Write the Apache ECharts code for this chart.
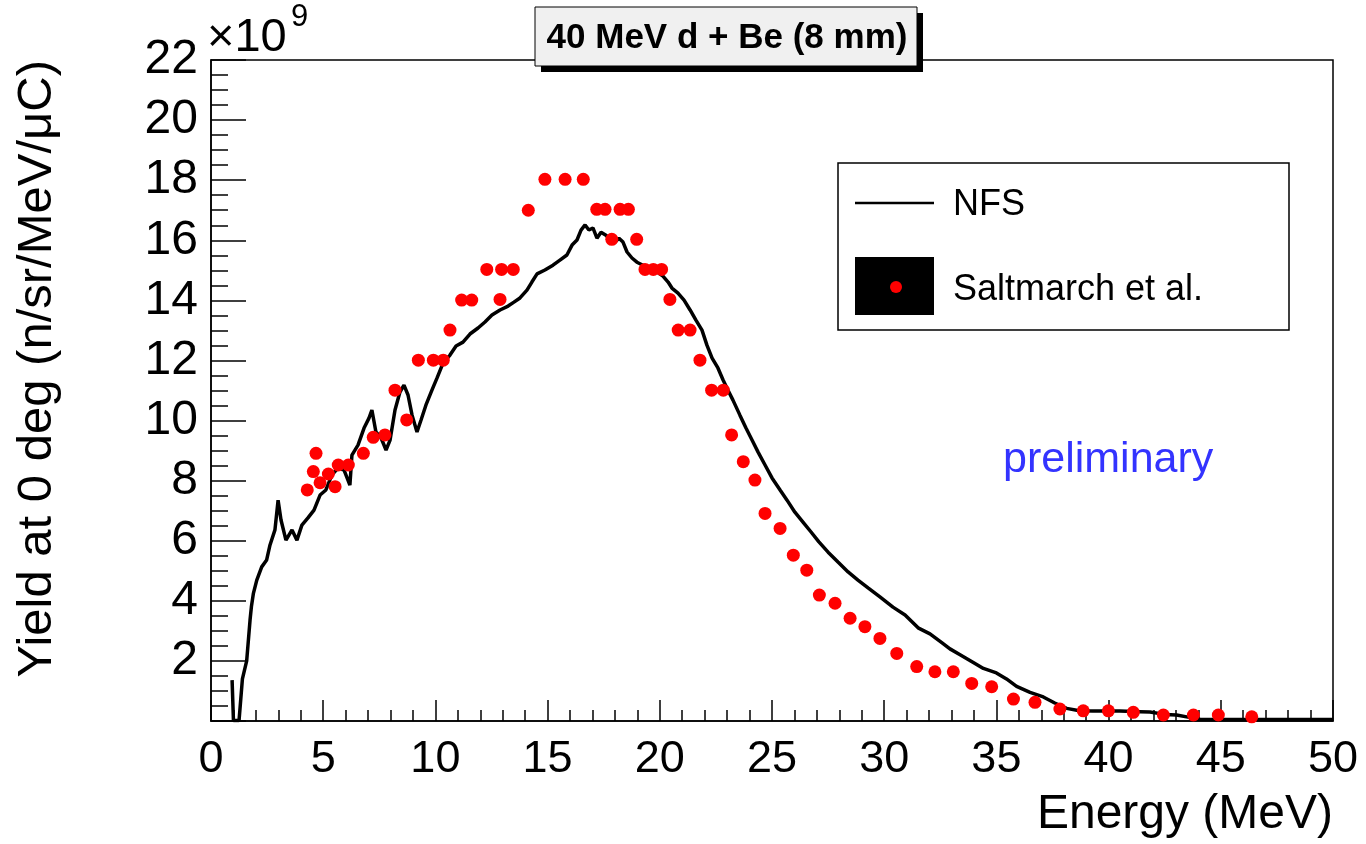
<!DOCTYPE html>
<html>
<head>
<meta charset="utf-8">
<script src="https://cdn.jsdelivr.net/npm/echarts@6/dist/echarts.min.js"></script>
<style>
html,body{margin:0;padding:0;background:#fff;}
#chart{width:1366px;height:844px;}
</style>
</head>
<body>
<div id="chart"></div>
<script>
// ---- data ----
var titleText = '40 MeV d + Be (8 mm)';
var xTitle = 'Energy (MeV)';
var yTitle = 'Yield at 0 deg (n/sr/MeV/\u03bcC)';
var seriesNames = ['NFS', 'Saltmarch et al.'];

// NFS spectrum (units of 1e9)
var nfsE = [0.94,1.00,1.25,1.40,1.59,1.74,1.80,1.89,2.04,2.26,2.48,2.63,2.85,2.99,3.12,3.34,3.61,3.83,4.05,4.32,4.59,4.86,5.12,5.39,5.66,5.93,6.19,6.28,6.55,6.82,7.04,7.17,7.35,7.58,7.80,7.98,8.20,8.42,8.60,8.78,8.96,9.18,9.36,9.58,9.85,10.07,10.34,10.65,10.92,11.23,11.54,11.90,12.21,12.52,12.88,13.24,13.50,13.77,14.08,14.30,14.53,14.88,15.24,15.55,15.86,16.09,16.31,16.49,16.67,16.84,17.02,17.20,17.38,17.60,17.78,17.96,18.18,18.36,18.54,18.76,18.98,19.25,19.56,19.88,20.14,20.37,20.54,20.81,21.08,21.35,21.61,21.88,22.10,22.33,22.59,22.82,23.04,23.26,23.57,23.84,24.11,24.38,24.69,25.00,25.36,25.67,26.02,26.38,26.74,27.09,27.50,27.94,28.39,28.83,29.28,29.81,30.39,30.93,31.51,32.04,32.58,32.93,33.40,33.97,34.42,35.00,35.45,35.90,36.50,37.09,37.60,38.13,38.70,39.30,40.50,41.40,41.84,42.50,43.03,43.60,44.07,46.00,50.00];
var nfsY = [1.36,0.02,0.02,1.40,2.00,3.36,3.80,4.25,4.69,5.13,5.36,5.86,6.36,7.35,6.69,6.02,6.36,6.02,6.52,6.76,7.02,7.52,7.69,8.19,8.42,8.35,7.85,8.85,9.18,9.75,10.08,10.35,9.62,9.42,9.02,9.35,10.35,10.95,11.18,10.85,10.18,9.62,10.02,10.52,11.02,11.41,11.91,12.18,12.48,12.61,12.88,13.08,13.28,13.51,13.68,13.81,13.94,14.08,14.34,14.61,14.88,15.01,15.17,15.34,15.51,15.84,16.01,16.34,16.51,16.34,16.41,16.07,16.27,16.17,16.01,15.91,16.07,15.94,15.61,15.41,15.27,15.17,15.07,14.94,14.81,14.61,14.41,14.24,14.01,13.68,13.34,13.01,12.51,12.08,11.75,11.35,11.01,10.68,10.18,9.75,9.35,8.95,8.52,8.09,7.69,7.35,6.95,6.62,6.29,5.96,5.62,5.29,4.96,4.69,4.43,4.13,3.79,3.53,3.10,2.90,2.60,2.40,2.20,1.95,1.75,1.60,1.40,1.15,0.95,0.80,0.60,0.42,0.34,0.33,0.33,0.31,0.30,0.22,0.20,0.12,0.06,0.05,0.05];

// Saltmarch et al. data points (units of 1e9)
var expE = [4.29,4.56,4.68,4.86,5.23,5.53,5.67,6.12,6.79,7.23,7.75,8.20,8.72,9.24,9.91,10.35,10.65,11.17,11.62,12.29,12.88,12.95,13.47,14.14,14.88,15.78,16.59,17.19,17.56,17.86,18.23,18.60,18.97,19.34,19.71,20.08,20.45,20.82,21.35,21.79,22.31,22.83,23.20,23.72,24.24,24.69,25.36,25.95,26.55,27.11,27.81,28.48,29.14,29.81,30.56,31.45,32.26,33.08,33.90,34.79,35.76,36.72,37.83,38.87,39.99,41.10,42.44,43.78,44.89,46.38];
var expY = [7.69,8.30,8.91,7.93,8.22,7.80,8.52,8.52,8.91,9.44,9.52,11.01,10.02,12.01,12.01,12.01,13.01,14.01,14.01,15.03,14.03,15.03,15.03,17.00,18.03,18.03,18.03,17.03,17.03,16.03,17.03,17.03,16.03,15.03,15.03,15.03,14.03,13.01,13.01,12.01,11.01,11.01,9.52,8.63,8.02,6.91,6.41,5.52,5.02,4.19,3.92,3.42,3.14,2.75,2.25,1.81,1.64,1.64,1.25,1.14,0.73,0.62,0.40,0.34,0.34,0.29,0.20,0.20,0.20,0.14];

var xMin = 0, xMax = 50, xStep = 5;
var yMin = 0, yMax = 22, yStep = 2;

// ---- chart ----
var FONT = '"Liberation Sans", Arial, Helvetica, sans-serif';
var chart = echarts.init(document.getElementById('chart'), null, {renderer: 'canvas'});

var nfsData = nfsE.map(function (e, i) { return [e, nfsY[i]]; });
var expData = expE.map(function (e, i) { return [e, expY[i]]; });

var option = {
  backgroundColor: '#ffffff',
  animation: false,
  grid: {
    left: 211, right: 33, top: 60, bottom: 123,
    show: true, borderColor: '#000', borderWidth: 1.5, backgroundColor: 'transparent'
  },
  xAxis: {
    type: 'value', min: xMin, max: xMax, interval: xStep,
    axisLine: {show: true, lineStyle: {color: '#000', width: 1.5}},
    axisTick: {show: true, inside: true, length: 21, lineStyle: {color: '#000', width: 1.5}},
    minorTick: {show: true, splitNumber: 5, length: 11, lineStyle: {color: '#000', width: 1.5}},
    splitLine: {show: false},
    axisLabel: {fontSize: 45, color: '#000', fontFamily: FONT, margin: 16,
      showMinLabel: true, showMaxLabel: true}
  },
  yAxis: {
    type: 'value', min: yMin, max: yMax, interval: yStep,
    axisLine: {show: true, lineStyle: {color: '#000', width: 1.5}},
    axisTick: {show: true, inside: true, length: 35, lineStyle: {color: '#000', width: 1.5}},
    minorTick: {show: true, splitNumber: 4, length: 17, lineStyle: {color: '#000', width: 1.5}},
    splitLine: {show: false},
    axisLabel: {fontSize: 48, color: '#000', fontFamily: FONT, margin: 13,
      formatter: function (v) { return v === 0 ? '' : String(v); }}
  },
  series: [
    {
      name: seriesNames[0], type: 'line', data: nfsData,
      showSymbol: false, symbol: 'none',
      lineStyle: {color: '#000', width: 3.5}, z: 2
    },
    {
      name: seriesNames[1], type: 'scatter', data: expData,
      symbol: 'circle', symbolSize: 13,
      itemStyle: {color: '#ff0000', opacity: 1}, z: 3
    }
  ],
  graphic: [
    // title box with shadow
    {type: 'rect', shape: {x: 541, y: 13, width: 382, height: 59}, style: {fill: '#000'}, z: 10},
    {type: 'rect', shape: {x: 535, y: 7, width: 382, height: 59}, style: {fill: '#f0f0f0', stroke: '#000', lineWidth: 1}, z: 11},
    {type: 'text', x: 727, y: 38, z: 12,
      style: {text: titleText, font: 'bold 35px ' + FONT, fill: '#000', textAlign: 'center', textVerticalAlign: 'middle'}},
    // exponent
    {type: 'text', x: 207, y: 38, z: 12,
      style: {text: '\u00d710', font: '47px ' + FONT, fill: '#000', textAlign: 'left', textVerticalAlign: 'middle'}},
    {type: 'text', x: 291, y: 17, z: 12,
      style: {text: '9', font: '31px ' + FONT, fill: '#000', textAlign: 'left', textVerticalAlign: 'middle'}},
    // axis titles
    {type: 'text', x: 1333, y: 815, z: 12,
      style: {text: xTitle, font: '48px ' + FONT, fill: '#000', textAlign: 'right', textVerticalAlign: 'middle'}},
    {type: 'text', x: 37, y: 60, rotation: Math.PI / 2, z: 12,
      style: {text: yTitle, font: '49px ' + FONT, fill: '#000', textAlign: 'right', textVerticalAlign: 'middle'}},
    // legend
    {type: 'rect', shape: {x: 838, y: 163, width: 451, height: 167}, style: {fill: '#fff', stroke: '#000', lineWidth: 1.5}, z: 10},
    {type: 'line', shape: {x1: 855, y1: 203, x2: 934, y2: 203}, style: {stroke: '#000', lineWidth: 2.5}, z: 11},
    {type: 'text', x: 953, y: 205, z: 11,
      style: {text: seriesNames[0], font: '36px ' + FONT, fill: '#000', textAlign: 'left', textVerticalAlign: 'middle'}},
    {type: 'rect', shape: {x: 855, y: 257, width: 79, height: 58}, style: {fill: '#000'}, z: 11},
    {type: 'circle', shape: {cx: 896, cy: 287, r: 6}, style: {fill: '#ff0000'}, z: 12},
    {type: 'text', x: 953, y: 290, z: 11,
      style: {text: seriesNames[1], font: '36px ' + FONT, fill: '#000', textAlign: 'left', textVerticalAlign: 'middle'}},
    // preliminary
    {type: 'text', x: 1003, y: 460, z: 11,
      style: {text: 'preliminary', font: '43px ' + FONT, fill: '#3333ff', textAlign: 'left', textVerticalAlign: 'middle'}}
  ]
};
chart.setOption(option);
</script>
</body>
</html>
